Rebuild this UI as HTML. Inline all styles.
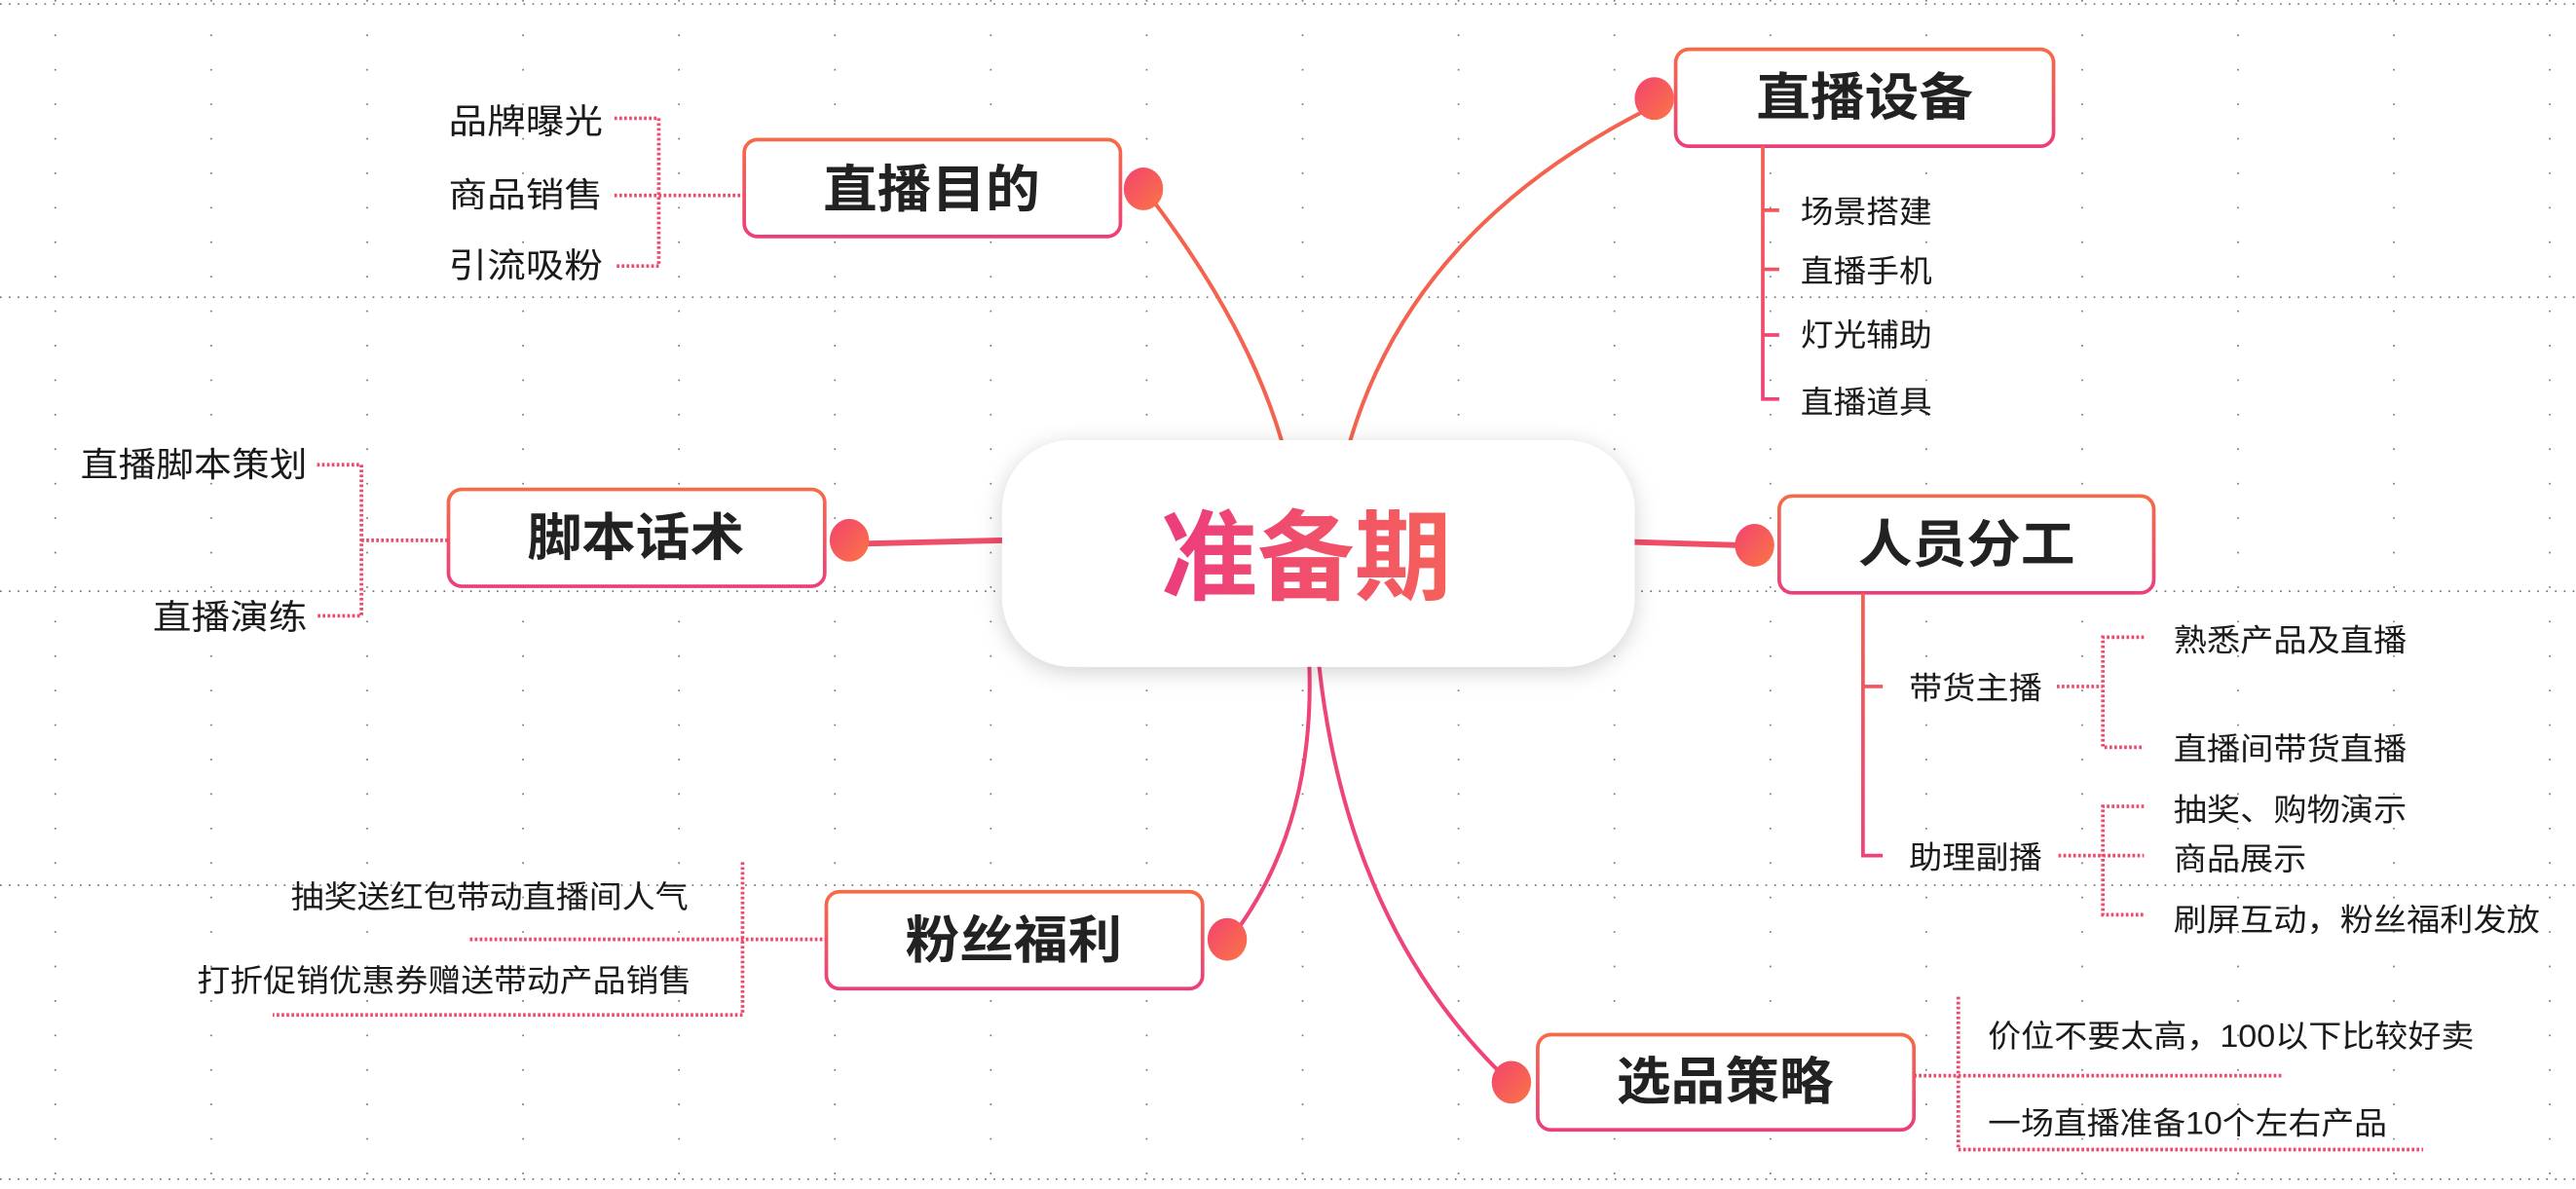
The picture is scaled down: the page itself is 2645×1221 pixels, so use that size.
<!DOCTYPE html>
<html><head><meta charset="utf-8"><style>html,body{margin:0;padding:0;background:#fff;}svg{display:block;}text{font-family:"Liberation Sans","Noto Sans CJK SC",sans-serif;}</style></head>
<body>
<svg width="2645" height="1221" viewBox="0 0 1568 724" preserveAspectRatio="none" xmlns="http://www.w3.org/2000/svg">
<defs>
<linearGradient id="bd" x1="0" y1="0" x2="0" y2="1"><stop offset="0" stop-color="#f66b47"/><stop offset="1" stop-color="#ec3e7c"/></linearGradient>
<linearGradient id="dot" x1="0" y1="0" x2="1" y2="1"><stop offset="0" stop-color="#f2436f"/><stop offset="1" stop-color="#fb7545"/></linearGradient>
<linearGradient id="ct" x1="0" y1="0" x2="1" y2="0"><stop offset="0" stop-color="#ec3c7e"/><stop offset="1" stop-color="#f5615a"/></linearGradient>
<linearGradient id="vl" x1="0" y1="0" x2="0" y2="1"><stop offset="0" stop-color="#f4604f"/><stop offset="1" stop-color="#ee4278"/></linearGradient>
<filter id="sh" x="-20%" y="-30%" width="140%" height="160%"><feDropShadow dx="0" dy="3" stdDeviation="7" flood-color="#000" flood-opacity="0.18"/></filter>
</defs>
<rect width="1568" height="724" fill="#fff"/>
<g stroke="#777" stroke-width="1" fill="none">
<path d="M0 2.5H1568M0 181H1568M0 360H1568M0 539H1568M0 718H1568" stroke-dasharray="1 4.4"/>
<path d="M33.7 0V724M128.6 0V724M223.5 0V724M318.4 0V724M413.3 0V724M508.2 0V724M603.1 0V724M698 0V724M792.9 0V724M887.8 0V724M982.7 0V724M1077.6 0V724M1172.5 0V724M1267.4 0V724M1362.3 0V724M1457.2 0V724M1552.1 0V724" stroke-dasharray="1 20"/>
</g>

<g fill="none" stroke-width="2.4" stroke-linecap="round">
<path d="M704 125 Q760 200 780 268" stroke="#f4634f"/>
<path d="M1000 68 Q860 140 822 268" stroke="#f4634f"/>
<path d="M529 331 L612 329" stroke="#f04d66" stroke-width="3.5"/>
<path d="M993 330 L1058 332" stroke="#f04d66" stroke-width="3.5"/>
<path d="M797 406 Q800 500 754 565" stroke="#ee4477"/>
<path d="M803 406 Q820 560 912 652" stroke="#ee4477"/>
</g>

<rect x="610" y="268" width="385" height="138" rx="42" fill="#fff" filter="url(#sh)"/>
<text x="795" y="340" text-anchor="middle" dominant-baseline="central" font-size="60" font-weight="bold" fill="url(#ct)" textLength="177" lengthAdjust="spacingAndGlyphs">准备期</text>

<g fill="#fff" stroke="url(#bd)" stroke-width="2.2">
<rect x="453" y="85" width="229" height="59" rx="8"/>
<rect x="273" y="298" width="229" height="59" rx="8"/>
<rect x="1020" y="30" width="230" height="59" rx="8"/>
<rect x="1083" y="302" width="228" height="59" rx="8"/>
<rect x="503" y="543" width="229" height="59" rx="8"/>
<rect x="936" y="630" width="229" height="58" rx="8"/>
</g>
<g font-size="31" font-weight="bold" fill="#222" text-anchor="middle" dominant-baseline="central">
<text x="567" y="116" textLength="132" lengthAdjust="spacingAndGlyphs">直播目的</text>
<text x="387" y="328" textLength="132" lengthAdjust="spacingAndGlyphs">脚本话术</text>
<text x="1135" y="60" textLength="132" lengthAdjust="spacingAndGlyphs">直播设备</text>
<text x="1197" y="332" textLength="132" lengthAdjust="spacingAndGlyphs">人员分工</text>
<text x="617" y="573" textLength="132" lengthAdjust="spacingAndGlyphs">粉丝福利</text>
<text x="1050" y="659" textLength="132" lengthAdjust="spacingAndGlyphs">选品策略</text>
</g>
<g fill="url(#dot)">
<ellipse cx="696" cy="115" rx="12" ry="13"/>
<ellipse cx="517" cy="329" rx="12" ry="13"/>
<ellipse cx="1007" cy="60" rx="12" ry="13"/>
<ellipse cx="1068" cy="332" rx="12" ry="13"/>
<ellipse cx="747" cy="572" rx="12" ry="13"/>
<ellipse cx="920" cy="659" rx="12" ry="13"/>
</g>

<g fill="none" stroke="#ee4a6e" stroke-width="2.2" stroke-dasharray="1.6 1.4">
<path d="M374 72H401V162H374M374 119H453"/>
<path d="M193 283H220V375H193M220 329H273"/>
<path d="M1252 418H1280M1305 388H1280V455H1305"/>
<path d="M1253 521H1305M1305 491H1280V557H1305"/>
<path d="M452 525V618H166M286 572H503"/>
<path d="M1165 655H1390M1192 607V700H1475"/>
</g>
<g fill="none" stroke="url(#vl)" stroke-width="2.2">
<path d="M1073 89V243H1083M1073 128H1083M1073 164H1083M1073 204H1083"/>
<path d="M1134 361V521H1146M1134 418H1146"/>
</g>

<g font-size="21" fill="#1a1a1a" dominant-baseline="central">
<text x="273" y="74" textLength="94" lengthAdjust="spacingAndGlyphs">品牌曝光</text>
<text x="273" y="119" textLength="94" lengthAdjust="spacingAndGlyphs">商品销售</text>
<text x="273" y="162" textLength="94" lengthAdjust="spacingAndGlyphs">引流吸粉</text>
<text x="49" y="283" textLength="138" lengthAdjust="spacingAndGlyphs">直播脚本策划</text>
<text x="93" y="376" textLength="94" lengthAdjust="spacingAndGlyphs">直播演练</text>
</g>
<g font-size="19" fill="#1a1a1a" dominant-baseline="central">
<text x="1096" y="129" textLength="80" lengthAdjust="spacingAndGlyphs">场景搭建</text>
<text x="1096" y="165" textLength="80" lengthAdjust="spacingAndGlyphs">直播手机</text>
<text x="1096" y="204" textLength="80" lengthAdjust="spacingAndGlyphs">灯光辅助</text>
<text x="1096" y="245" textLength="80" lengthAdjust="spacingAndGlyphs">直播道具</text>
<text x="1162" y="419" textLength="81" lengthAdjust="spacingAndGlyphs">带货主播</text>
<text x="1162" y="522" textLength="81" lengthAdjust="spacingAndGlyphs">助理副播</text>
<text x="1323" y="390" textLength="142" lengthAdjust="spacingAndGlyphs">熟悉产品及直播</text>
<text x="1323" y="456" textLength="142" lengthAdjust="spacingAndGlyphs">直播间带货直播</text>
<text x="1323" y="493" textLength="142" lengthAdjust="spacingAndGlyphs">抽奖、购物演示</text>
<text x="1323" y="523" textLength="81" lengthAdjust="spacingAndGlyphs">商品展示</text>
<text x="1323" y="560" textLength="223" lengthAdjust="spacingAndGlyphs">刷屏互动，粉丝福利发放</text>
<text x="1210" y="631" textLength="296" lengthAdjust="spacingAndGlyphs">价位不要太高，100以下比较好卖</text>
<text x="1210" y="684" textLength="243" lengthAdjust="spacingAndGlyphs">一场直播准备10个左右产品</text>
<text x="177" y="546" textLength="242" lengthAdjust="spacingAndGlyphs">抽奖送红包带动直播间人气</text>
<text x="120" y="597" textLength="301" lengthAdjust="spacingAndGlyphs">打折促销优惠券赠送带动产品销售</text>
</g>
</svg>
</body></html>
